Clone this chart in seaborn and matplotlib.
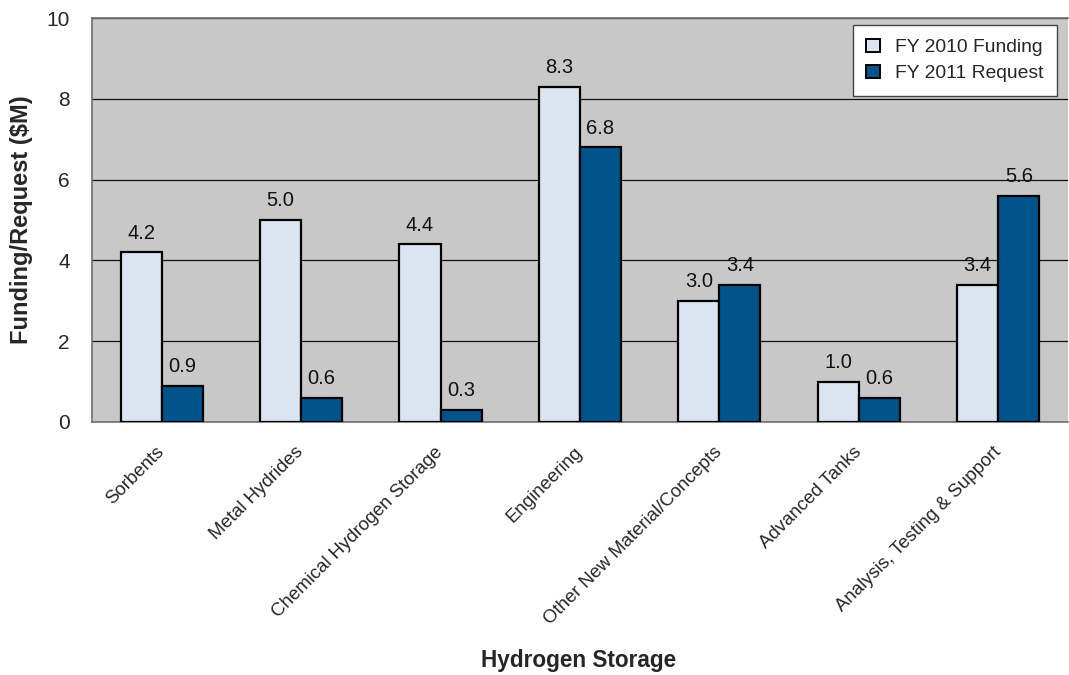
import matplotlib
matplotlib.use("Agg")
import matplotlib.pyplot as plt
import seaborn as sns
import pandas as pd
import numpy as np

categories = ["Sorbents", "Metal Hydrides", "Chemical Hydrogen Storage", "Engineering",
              "Other New Material/Concepts", "Advanced Tanks", "Analysis, Testing & Support"]
fy2010 = [4.2, 5.0, 4.4, 8.3, 3.0, 1.0, 3.4]
fy2011 = [0.9, 0.6, 0.3, 6.8, 3.4, 0.6, 5.6]
series = ["FY 2010 Funding", "FY 2011 Request"]
colors = ["#dbe5f1", "#00548c"]

df = pd.DataFrame({
    "category": categories * 2,
    "value": fy2010 + fy2011,
    "series": [series[0]] * len(categories) + [series[1]] * len(categories),
})

sns.set_theme(style="white")
plt.rcParams["font.family"] = ["Liberation Sans", "DejaVu Sans"]

fig = plt.figure(figsize=(10.69, 6.75), dpi=100)
ax = fig.add_axes([0.086, 0.375, 0.913, 0.598])
ax.set_facecolor("#c8c8c8")

sns.barplot(data=df, x="category", y="value", hue="series", palette=colors,
            saturation=1, width=0.59, edgecolor="black", linewidth=1.6, ax=ax,
            zorder=3, errorbar=None)

for cont in ax.containers:
    ax.bar_label(cont, fmt="%.1f", padding=7, fontsize=14.5, color="#111111")

ax.set_ylim(0, 10)
ax.set_xlim(-0.5, len(categories) - 0.5)
ax.set_yticks([0, 2, 4, 6, 8, 10])
ax.yaxis.grid(True, color="#111111", linewidth=0.9, zorder=0)
ax.set_axisbelow(True)

# category separators as x-axis ticks, names on minor ticks at the centres
ax.set_xticks(np.arange(len(categories) + 1) - 0.5, minor=False)
ax.set_xticklabels([])
ax.set_xticks(np.arange(len(categories)), minor=True)
ax.set_xticklabels(categories, minor=True, rotation=45, ha="right", va="center",
                   rotation_mode="anchor", fontsize=13.4)
ax.tick_params(axis="x", which="minor", length=0, pad=20)
ax.tick_params(axis="x", which="major", length=7, color="#555555", direction="out")
ax.tick_params(axis="y", length=7, color="#555555", direction="out", labelsize=15,
               pad=9)

ax.spines["right"].set_visible(False)
for s in ["left", "bottom", "top"]:
    ax.spines[s].set_color("#707070")
    ax.spines[s].set_linewidth(1.2)

ax.set_ylabel("")
ax.set_xlabel("")
fig.text(22 / 1069, 1 - 220 / 675, "Funding/Request ($M)", rotation=90,
         ha="center", va="center", fontsize=17, fontweight="bold")
fig.text(0.541, 0.005, "Hydrogen Storage", ha="center", va="bottom",
         fontsize=16.3, fontweight="bold")

leg = ax.legend(loc="upper right", bbox_to_anchor=(0.9887, 0.9827), fontsize=13.9,
                frameon=True, fancybox=False, edgecolor="#444444", framealpha=1,
                handlelength=0.7, handleheight=0.7, handletextpad=0.8,
                borderpad=0.7, labelspacing=0.45, borderaxespad=0)
leg.get_frame().set_linewidth(1.0)
leg.get_frame().set_facecolor("white")
for h in leg.legend_handles:
    h.set_linewidth(1.4)
    h.set_edgecolor("black")

fig.savefig("out.png", dpi=100)
